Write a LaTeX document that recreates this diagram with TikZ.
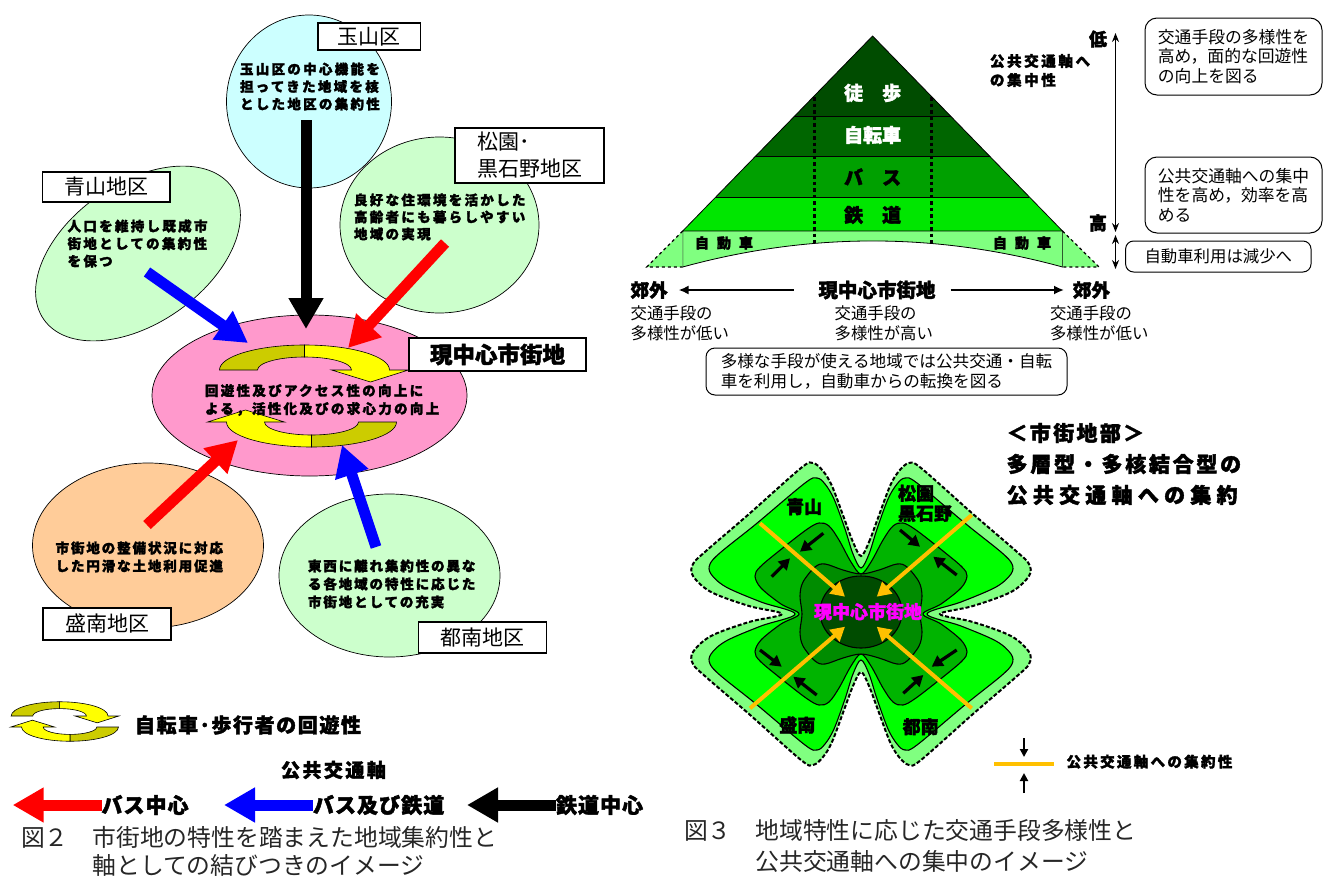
\documentclass[tikz,border=0pt]{standalone}
\usepackage{fontspec}
\newfontfamily\jp{Noto Sans CJK JP}
\usetikzlibrary{arrows.meta,shapes.geometric}
\definecolor{lcyan}{HTML}{CCFFFF}
\definecolor{lgreen}{HTML}{CCFFCC}
\definecolor{lpeach}{HTML}{FFCC99}
\definecolor{mypink}{HTML}{FF99CC}
\definecolor{olivey}{HTML}{CCCC00}
\definecolor{yel}{HTML}{FFFF00}
\definecolor{gA}{HTML}{80FF80}
\definecolor{gB}{HTML}{00FF00}
\definecolor{gC}{HTML}{00B400}
\definecolor{gD}{HTML}{008C00}
\definecolor{gE}{HTML}{004C00}
\definecolor{pA}{HTML}{004C00}
\definecolor{pB}{HTML}{006600}
\definecolor{pC}{HTML}{00A000}
\definecolor{pD}{HTML}{00E600}
\definecolor{orng}{HTML}{FFC000}
\definecolor{mag}{HTML}{FF00FF}
\definecolor{myred}{HTML}{FF0000}
\definecolor{myblue}{HTML}{0000FF}
\newcommand\jpB[3]{\jp\bfseries\fontsize{#1}{#2}\selectfont\addfontfeatures{LetterSpace=#3,FakeBold=2}}
\newcommand\jpR[3]{\jp\fontsize{#1}{#2}\selectfont\addfontfeatures{LetterSpace=#3}}
\newcommand\circarrowshape{%
  \filldraw[fill=olivey, draw=black, line width=0.6pt] (-85,0) arc[start angle=180, end angle=270, x radius=85, y radius=25] -- (0,-13) arc[start angle=270, end angle=180, x radius=47, y radius=13] -- cycle;
  \filldraw[fill=yel, draw=black, line width=0.6pt] (0,-25) arc[start angle=270, end angle=360, x radius=85, y radius=25] -- (104,0) -- (66,12) -- (27,0) -- (47,0) arc[start angle=0, end angle=-90, x radius=47, y radius=13] -- cycle;
}
\tikzset{
  bt/.style n args={3}{anchor=west, align=left, font=\jpB{#1}{#2}{#3}},
  rt/.style n args={3}{anchor=west, align=left, font=\jpR{#1}{#2}{#3}},
  region/.style={ellipse, draw=black, line width=0.7pt},
  lbox/.style={draw=black, line width=1.1pt, fill=white, align=left, anchor=north west},
  rbox/.style={draw=black, line width=1pt, fill=white, align=left, anchor=north west},
  blockarr/.style={draw=#1, line width=11pt, -{Triangle[length=31pt, width=33pt]}},
  smallarr/.style={draw=black, line width=3.2pt, -{Triangle[length=11pt, width=12pt]}},
  orarr/.style={draw=orng, line width=4pt, -{Triangle[length=14pt, width=15pt]}},
}
\begin{document}
\begin{tikzpicture}[x=1pt,y=-1pt, every node/.style={inner sep=0pt, outer sep=0pt}]
\useasboundingbox (0,0) rectangle (1325,878);

% ---------------- Figure 2 (left) ----------------
\node[region, fill=lcyan, minimum width=165pt, minimum height=173pt] (tama) at (309,101.5) {};
\node[region, fill=lgreen, minimum width=199pt, minimum height=176pt] (matsu) at (439.5,225) {};
\node[region, fill=lgreen, minimum width=230pt, minimum height=140pt, rotate=35] (aoyama) at (138,253.5) {};
\node[region, fill=lpeach, minimum width=231pt, minimum height=165pt] (morinan) at (148,545.5) {};
\node[region, fill=lgreen, minimum width=221pt, minimum height=163pt] (tonan) at (389.5,575.5) {};

\node[bt={13.5}{17.5}{17}] (tamaT) at (240,86.5) {玉山区の中心機能を\\担ってきた地域を核\\とした地区の集約性};
\node[bt={13.5}{17}{17}] (matsuT) at (354,217) {良好な住環境を活かした\\高齢者にも暮らしやすい\\地域の実現};
\node[bt={13.5}{17.5}{17}] (aoT) at (67.6,243.5) {人口を維持し既成市\\街地としての集約性\\を保つ};
\node[bt={13.5}{18}{14}] (moriT) at (55.6,557) {市街地の整備状況に対応\\した円滑な土地利用促進};
\node[bt={13.5}{18}{14}] (tonT) at (308,584) {東西に離れ集約性の異な\\る各地域の特性に応じた\\市街地としての充実};

\node[lbox, font=\jpR{21}{27}{0}, minimum width=102.5pt, minimum height=27pt] (tamaL) at (318,23) {玉山区};
\node[lbox, font=\jpR{21}{27}{0}, minimum width=149pt, minimum height=55pt] (matsuL) at (455,128) {松園･\\黒石野地区};
\node[lbox, font=\jpR{21}{27}{0}, minimum width=127.5pt, minimum height=30pt] (aoL) at (42.5,172) {青山地区};
\node[lbox, font=\jpR{21}{27}{0}, minimum width=128pt, minimum height=32pt] (moriL) at (43,608) {盛南地区};
\node[lbox, font=\jpR{21}{27}{0}, minimum width=128pt, minimum height=31pt] (tonL) at (418.5,622) {都南地区};

\node[region, fill=mypink, minimum width=315pt, minimum height=161pt] (cen) at (309.5,395.5) {};
\begin{scope}[shift={(304.5,370)}]\circarrowshape\end{scope}
\begin{scope}[shift={(311.5,422)}, rotate=180]\circarrowshape\end{scope}
\node[bt={13.5}{18}{17}] (cenT) at (205,400) {回遊性及びアクセス性の向上に\\よる，活性化及びの求心力の向上};
\node[lbox, font=\jpB{22.5}{27}{0}, minimum width=177pt, minimum height=33pt] (cenL) at (409,338) {現中心市街地};

\coordinate (bkS) at (306,120); \coordinate (bkE) at (306,329);
\coordinate (bu1S) at (147,272); \coordinate (bu1E) at (248,343);
\coordinate (rd1S) at (445,243); \coordinate (rd1E) at (348,348);
\coordinate (rd2S) at (147,525); \coordinate (rd2E) at (238,440);
\coordinate (bu2S) at (376,547); \coordinate (bu2E) at (342,445);
\draw[blockarr=black] (bkS) -- (bkE);
\draw[blockarr=myblue] (bu1S) -- (bu1E);
\draw[blockarr=myred] (rd1S) -- (rd1E);
\draw[blockarr=myred] (rd2S) -- (rd2E);
\draw[blockarr=myblue] (bu2S) -- (bu2E);

% legend
\begin{scope}[shift={(59.6,716)}, scale=0.57]\circarrowshape\end{scope}
\begin{scope}[shift={(70,727)}, rotate=180, scale=0.57]\circarrowshape\end{scope}
\node[bt={20}{20}{8}] (lgCirc) at (135,725) {自転車･歩行者の回遊性};
\node[bt={19}{19}{13}] (lgAxis) at (281,770) {公共交通軸};
\node[bt={21}{21}{5}] (lgBus) at (101.5,805) {バス中心};
\node[bt={21}{21}{5}] (lgBR) at (313,805) {バス及び鉄道};
\node[bt={21}{21}{5}] (lgRail) at (556,805) {鉄道中心};
\coordinate (lgRe) at (12.7,805);
\coordinate (lgBe) at (224,805);
\coordinate (lgKe) at (467,805);
\draw[blockarr=myred] (lgBus.west) -- (lgRe);
\draw[blockarr=myblue] (lgBR.west) -- (lgBe);
\draw[blockarr=black] (lgRail.west) -- (lgKe);
\node[rt={23.8}{28}{0}, text=black!85] (cap2) at (21,851) {図２　市街地の特性を踏まえた地域集約性と\\\hphantom{図２　}軸としての結びつきのイメージ};

% ---------------- Pyramid (top right) ----------------
\fill[pA] (872.6,36) -- (794.7,116) -- (950.5,116) -- cycle;
\fill[pB] (794.7,116) -- (755.7,156) -- (989.5,156) -- (950.5,116) -- cycle;
\fill[pC] (755.7,156) -- (715.8,197) -- (1029.4,197) -- (989.5,156) -- cycle;
\fill[pD] (715.8,197) -- (682.7,231) -- (1062.5,231) -- (1029.4,197) -- cycle;
\filldraw[fill=gA, draw=black, line width=0.8pt] (682.7,231) -- (1062.5,231) -- (1062.5,267) .. controls (935.9,232.3) and (809.3,232.3) .. (682.7,267) -- cycle;
\fill[gA] (682.7,231) -- (646.7,267) -- (682.7,267) -- cycle;
\fill[gA] (1062.5,231) -- (1099,267) -- (1062.5,267) -- cycle;
\draw[dashed, line width=1.2pt] (682.7,231) -- (646.7,267) -- (682.7,267);
\draw[dashed, line width=1.2pt] (1062.5,231) -- (1099,267) -- (1062.5,267);
\draw[line width=0.8pt] (682.7,231) -- (872.6,36) -- (1062.5,231);
\draw[line width=0.8pt] (794.7,116) -- (950.5,116) (755.7,156) -- (989.5,156) (715.8,197) -- (1029.4,197);
\draw[line width=3pt, dash pattern=on 3.5pt off 3pt] (814,97) -- (814,243);
\draw[line width=3pt, dash pattern=on 3.5pt off 3pt] (931,97) -- (931,243);
\node[font=\jpB{19}{19}{0}, text=white] (toho) at (872.6,93) {徒　歩};
\node[font=\jpB{19}{19}{0}, text=white] (jiten) at (872.6,135) {自転車};
\node[font=\jpB{19}{19}{0}] (bus) at (872.6,177) {バ　ス};
\node[font=\jpB{19}{19}{0}] (tetsu) at (872.6,215) {鉄　道};
\node[bt={14}{14}{0}] (carL) at (695,243) {自\hspace{8pt}動\hspace{8pt}車};
\node[bt={14}{14}{0}] (carR) at (993,243) {自\hspace{8pt}動\hspace{8pt}車};

\coordinate (axT) at (1115.5,33); \coordinate (axB) at (1115.5,232);
\coordinate (ax2T) at (1115.5,235); \coordinate (ax2B) at (1115.5,269);
\draw[{Stealth[length=9pt,width=7pt]}-{Stealth[length=9pt,width=7pt]}, line width=1.3pt] (axT) -- (axB);
\draw[{Stealth[length=9pt,width=7pt]}-{Stealth[length=9pt,width=7pt]}, line width=1.3pt] (ax2T) -- (ax2B);
\node[font=\jpB{18}{18}{0}] (lo) at (1098,39) {低};
\node[font=\jpB{18}{18}{0}] (hi) at (1098,223) {高};
\node[bt={14.5}{19}{18}] (conc) at (990,70.5) {公共交通軸へ\\の集中性};

\node[rbox, rounded corners=12pt, font=\jpR{16.8}{19.5}{0}, minimum width=177pt, minimum height=77pt] (box1) at (1145,18) {交通手段の多様性を\\高め，面的な回遊性\\の向上を図る};
\node[rbox, rounded corners=12pt, font=\jpR{16.8}{19.5}{0}, minimum width=177pt, minimum height=76pt] (box2) at (1145,157) {公共交通軸への集中\\性を高め，効率を高\\める};
\node[rbox, rounded corners=8pt, font=\jpR{16.4}{19.5}{0}, minimum width=185.4pt, minimum height=31pt] (box3) at (1125.6,241) {自動車利用は減少へ};

\node[bt={18.5}{20}{0}] (kogaiL) at (630.6,290) {郊外};
\node[bt={19.5}{20}{0}] (genchu) at (818.5,290) {現中心市街地};
\node[bt={18.5}{20}{0}] (kogaiR) at (1073,290) {郊外};
\draw[line width=1.8pt, -{Latex[length=10pt,width=9pt]}] ([xshift=-25pt]genchu.west) -- ([xshift=11pt]kogaiL.east);
\draw[line width=1.8pt, -{Latex[length=10pt,width=9pt]}] ([xshift=15pt]genchu.east) -- ([xshift=-9pt]kogaiR.west);
\node[rt={16.4}{20}{0}] (divL) at (630.6,323) {交通手段の\\多様性が低い};
\node[rt={16.4}{20}{0}] (divM) at (834.6,323) {交通手段の\\多様性が高い};
\node[rt={16.4}{20}{0}] (divR) at (1050,323) {交通手段の\\多様性が低い};
\node[rbox, rounded corners=9pt, font=\jpR{16.6}{20}{0}, minimum width=361pt, minimum height=47pt] (shiftbox) at (706,348) {多様な手段が使える地域では公共交通・自転\\車を利用し，自動車からの転換を図る};

% ---------------- Clover (bottom right) ----------------
\begin{scope}[shift={(861,614)}]
\filldraw[fill=gA, draw=black, line width=2pt, dash pattern=on 4pt off 2pt] plot[smooth cycle, tension=0.55] coordinates {(0,-58) (8,-72) (17,-96) (29,-128) (38,-143) (48,-151) (60,-146) (112,-100) (155,-63) (168,-50) (168,-38) (150,-22) (112,-8) (79,0) (112,8) (150,22) (168,38) (168,50) (155,63) (112,100) (60,146) (48,151) (38,143) (29,128) (17,96) (8,72) (0,58) (-8,72) (-17,96) (-29,128) (-38,143) (-48,151) (-60,146) (-112,100) (-155,63) (-168,50) (-168,38) (-150,22) (-112,8) (-79,0) (-112,-8) (-150,-22) (-168,-38) (-168,-50) (-155,-63) (-112,-100) (-60,-146) (-48,-151) (-38,-143) (-29,-128) (-17,-96) (-8,-72)};
\filldraw[fill=gB, draw=black, line width=1.1pt] plot[smooth cycle, tension=0.55] coordinates {(0,-46) (8,-60) (16,-85) (27,-115) (36,-130) (44,-136) (56,-131) (105,-90) (140,-62) (151,-50) (150,-40) (135,-27) (100,-12) (66,0) (100,12) (135,27) (150,40) (151,50) (140,62) (105,90) (56,131) (44,136) (36,130) (27,115) (16,85) (8,60) (0,46) (-8,60) (-16,85) (-27,115) (-36,130) (-44,136) (-56,131) (-105,90) (-140,62) (-151,50) (-150,40) (-135,27) (-100,12) (-66,0) (-100,-12) (-135,-27) (-150,-40) (-151,-50) (-140,-62) (-105,-90) (-56,-131) (-44,-136) (-36,-130) (-27,-115) (-16,-85) (-8,-60)};
\filldraw[fill=gC, draw=black, line width=1.1pt] plot[smooth cycle, tension=0.55] coordinates {(0,-40) (10,-52) (22,-74) (32,-88) (42,-91) (55,-84) (82,-63) (101,-47) (106,-38) (100,-26) (80,-10) (62,0) (80,10) (100,26) (106,38) (101,47) (82,63) (55,84) (42,91) (32,88) (22,74) (10,52) (0,40) (-10,52) (-22,74) (-32,88) (-42,91) (-55,84) (-82,63) (-101,47) (-106,38) (-100,26) (-80,10) (-62,0) (-80,-10) (-100,-26) (-106,-38) (-101,-47) (-82,-63) (-55,-84) (-42,-91) (-32,-88) (-22,-74) (-10,-52)};
\filldraw[fill=gD, draw=black, line width=1.1pt] plot[smooth cycle, tension=0.55] coordinates {(0,-40) (18,-44) (36,-50) (46,-47) (58,-32) (61,-18) (59,0) (61,18) (58,32) (46,47) (36,50) (18,44) (0,40) (-18,44) (-36,50) (-46,47) (-58,32) (-61,18) (-59,0) (-61,-18) (-58,-32) (-46,-47) (-36,-50) (-18,-44)};
\end{scope}
\filldraw[fill=gE, draw=black, line width=1.1pt] (861,612) ellipse [x radius=41, y radius=36];

\coordinate (s1a) at (823.3,533.3); \coordinate (s1b) at (800,551.7);
\coordinate (s2a) at (771.7,576.7); \coordinate (s2b) at (790,558.3);
\coordinate (s3a) at (900,530); \coordinate (s3b) at (920,546.7);
\coordinate (s4a) at (956.7,575); \coordinate (s4b) at (933.3,556.7);
\coordinate (s5a) at (760,650); \coordinate (s5b) at (781.7,666.7);
\coordinate (s6a) at (816.7,695); \coordinate (s6b) at (793.3,676.7);
\coordinate (s7a) at (956.7,650); \coordinate (s7b) at (931.7,666.7);
\coordinate (s8a) at (903.3,693.3); \coordinate (s8b) at (923.3,675);
\foreach \i in {1,...,8} {\draw[smallarr] (s\i a) -- (s\i b);}

\coordinate (oAs) at (760,523.3); \coordinate (oAe) at (845,596.7);
\coordinate (oBs) at (971.7,515); \coordinate (oBe) at (876.7,596.7);
\coordinate (oCs) at (750,708.3); \coordinate (oCe) at (845,626.7);
\coordinate (oDs) at (971.7,708.3); \coordinate (oDe) at (876.7,626.7);
\draw[orarr] (oAs) -- (oAe);
\draw[orarr] (oBs) -- (oBe);
\draw[orarr] (oCs) -- (oCe);
\draw[orarr] (oDs) -- (oDe);

\node[font=\jpB{18}{18}{0}] (cAo) at (804.2,506.7) {青山};
\node[bt={18}{20}{0}] (cMa) at (898,503.3) {松園\\黒石野};
\node[font=\jpB{18}{18}{0}] (cMo) at (797.3,725) {盛南};
\node[font=\jpB{18}{18}{0}] (cTo) at (920.7,726.7) {都南};
\node[font=\jpB{18}{18}{0}, text=mag] (cCen) at (868,611.7) {現中心市街地};

\node[bt={21}{21}{11}] (ttl1) at (1006.6,433) {＜市街地部＞};
\node[bt={21}{21}{13}] (ttl2) at (1006.6,464) {多層型・多核結合型の};
\node[bt={21}{21}{25}] (ttl3) at (1006.6,495) {公共交通軸への集約};

\coordinate (lgOa) at (994,764); \coordinate (lgOb) at (1054,764);
\draw[orng, line width=4.5pt] (lgOa) -- (lgOb);
\coordinate (lgDa) at (1024,738); \coordinate (lgDb) at (1024,757);
\coordinate (lgUa) at (1024,793); \coordinate (lgUb) at (1024,773);
\draw[line width=2pt, -{Triangle[length=8pt,width=8pt]}] (lgDa) -- (lgDb);
\draw[line width=2pt, -{Triangle[length=8pt,width=8pt]}] (lgUa) -- (lgUb);
\node[bt={14.5}{16}{16}] (lgConc) at (1066.5,761.7) {公共交通軸への集約性};

\node[rt={23.8}{31}{0}, text=black!85] (cap3) at (684,846.2) {図３　地域特性に応じた交通手段多様性と\\\hphantom{図３　}公共交通軸への集中のイメージ};
\end{tikzpicture}
\end{document}
